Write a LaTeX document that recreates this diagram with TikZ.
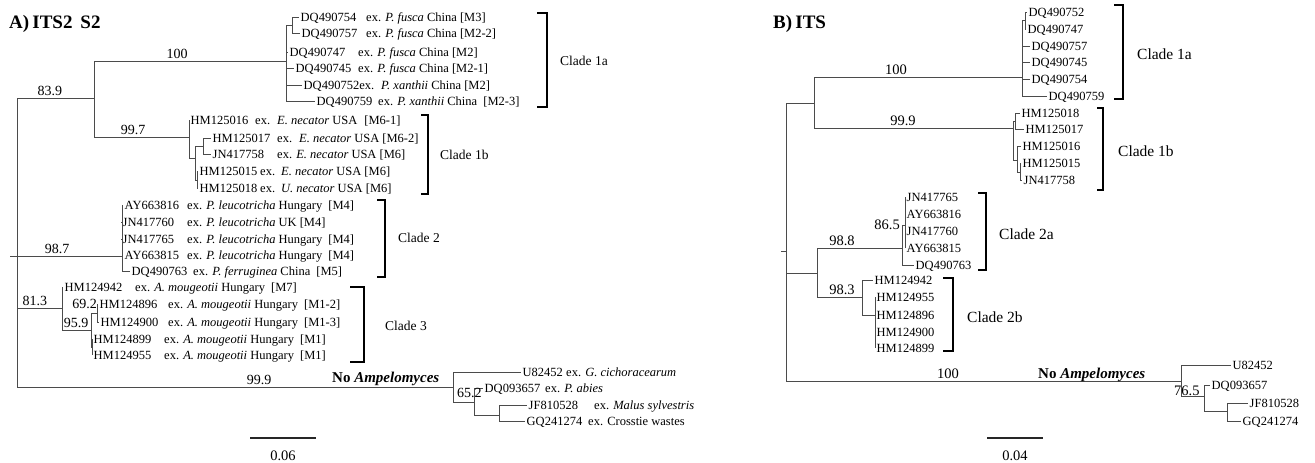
\documentclass[tikz,border=0pt]{standalone}
\usepackage{fontspec}
\setmainfont{Liberation Serif}
\definecolor{linegray}{RGB}{75,75,75}
\begin{document}
\begin{tikzpicture}[x=1pt,y=-1pt,
  br/.style={draw=linegray, line width=0.9pt},
  leaf/.style={anchor=west, inner xsep=1.5pt, inner ysep=0pt, text height=9pt, text depth=0pt, font=\fontsize{12.5}{15}\selectfont},
  desc/.style={anchor=west, inner sep=0pt, text height=9pt, text depth=0pt, font=\fontsize{12.5}{15}\selectfont},
  boot/.style={anchor=south, inner sep=0pt, text height=9pt, text depth=0pt, yshift=2.5pt, font=\fontsize{14}{16}\selectfont},
  bootw/.style={anchor=west, inner sep=0pt, text height=9pt, text depth=0pt, font=\fontsize{14}{16}\selectfont},
  bootR/.style={boot, font=\fontsize{14.5}{16}\selectfont},
  bootwR/.style={bootw, font=\fontsize{14.5}{16}\selectfont},
  clab/.style={anchor=west, inner sep=0pt, text height=9pt, text depth=0pt, font=\fontsize{13.5}{15}\selectfont},
  clabR/.style={clab, font=\fontsize{15.5}{17}\selectfont},
  cbr/.style={draw=black, line width=1.8pt, line join=miter},
  sbar/.style={draw=black!85, line width=1.8pt},
  ttl/.style={anchor=west, inner sep=0pt, font=\bfseries\fontsize{19}{22}\selectfont},
  nam/.style={anchor=west, inner sep=0pt, text height=10pt, text depth=0pt, font=\bfseries\fontsize{15}{17}\selectfont},
  sclab/.style={anchor=center, inner sep=0pt, font=\fontsize{14.5}{16}\selectfont},
]
\useasboundingbox (0,0) rectangle (1315,463);

% ================= Tree A =================
\node[ttl] (titleA) at (9,24) {A)\,ITS2\, S2};

\coordinate (rA) at (17,256);
\coordinate (rAs) at (10,256);
\coordinate (a1) at (94,98);
\coordinate (a11) at (286,61);
\coordinate (a111) at (292,25);
\coordinate (a12) at (189,137);
\coordinate (a121) at (195,158);
\coordinate (a1211) at (203,146);
\coordinate (a1212) at (197,180);
\coordinate (a2) at (122,256);
\coordinate (a3) at (62,308);
\coordinate (a31) at (91,330);
\coordinate (a311) at (97,313);
\coordinate (a312) at (92,347);
\coordinate (a4) at (453,387);
\coordinate (a41) at (474,402);
\coordinate (a411) at (499,415);

% accessions
\node[leaf] (L1) at (299,17) {DQ490754};
\node[leaf] (L2) at (300,33) {DQ490757};
\node[leaf] (L3) at (288,52) {DQ490747};
\node[leaf] (L4) at (294,68) {DQ490745};
\node[leaf] (L5) at (302,85) {DQ490752ex.};
\node[leaf] (L6) at (315,101) {DQ490759};
\node[leaf] (L7) at (189,120) {HM125016};
\node[leaf] (L8) at (211,138) {HM125017};
\node[leaf] (L9) at (211,154) {JN417758};
\node[leaf] (L10) at (198,171) {HM125015};
\node[leaf] (L11) at (198,188) {HM125018};
\node[leaf] (L12) at (123,205) {AY663816};
\node[leaf] (L13) at (121,222) {JN417760};
\node[leaf] (L14) at (121,239) {JN417765};
\node[leaf] (L15) at (123,255) {AY663815};
\node[leaf] (L16) at (130,271) {DQ490763};
\node[leaf] (L17) at (63,287) {HM124942};
\node[leaf] (L18) at (98,304) {HM124896};
\node[leaf] (L19) at (99,322) {HM124900};
\node[leaf] (L20) at (92,339) {HM124899};
\node[leaf] (L21) at (92,355) {HM124955};
\node[leaf] (L22) at (521,372) {U82452};
\node[leaf] (L23) at (483,388) {DQ093657};
\node[leaf] (L24) at (527,405) {JF810528};
\node[leaf] (L25) at (525,421) {GQ241274};

% descriptions
\node[desc] (D1) at (366,17) {ex. \textit{P. fusca} China [M3]};
\node[desc] (D2) at (366,33) {ex. \textit{P. fusca} China [M2-2]};
\node[desc] (D3) at (358,52) {ex. \textit{P. fusca} China [M2]};
\node[desc] (D4) at (358,68) {ex. \textit{P. fusca} China [M2-1]};
\node[desc] (D5) at (381,85) {\textit{P. xanthii} China [M2]};
\node[desc] (D6) at (378,101) {ex. \textit{P. xanthii} China\hspace{3pt} [M2-3]};
\node[desc] (D7) at (255,120) {ex.\hspace{7pt}\textit{E. necator} USA\hspace{4pt} [M6-1]};
\node[desc] (D8) at (277,138) {ex.\hspace{7pt}\textit{E. necator} USA [M6-2]};
\node[desc] (D9) at (277,154) {ex. \textit{E. necator} USA [M6]};
\node[desc] (D10) at (260,171) {ex.\hspace{6pt}\textit{E. necator} USA [M6]};
\node[desc] (D11) at (260,188) {ex.\hspace{6pt}\textit{U. necator} USA [M6]};
\node[desc] (D12) at (187,205) {ex. \textit{P. leucotricha} Hungary\hspace{3pt} [M4]};
\node[desc] (D13) at (187,222) {ex. \textit{P. leucotricha} UK [M4]};
\node[desc] (D14) at (187,239) {ex. \textit{P. leucotricha} Hungary\hspace{3pt} [M4]};
\node[desc] (D15) at (187,255) {ex. \textit{P. leucotricha} Hungary\hspace{3pt} [M4]};
\node[desc] (D16) at (193,271) {ex. \textit{P. ferruginea} China\hspace{3pt} [M5]};
\node[desc] (D17) at (135,287) {ex. \textit{A. mougeotii} Hungary\hspace{3pt} [M7]};
\node[desc] (D18) at (168,304) {ex. \textit{A. mougeotii} Hungary\hspace{3pt} [M1-2]};
\node[desc] (D19) at (168,322) {ex. \textit{A. mougeotii} Hungary\hspace{3pt} [M1-3]};
\node[desc] (D20) at (164,339) {ex. \textit{A. mougeotii} Hungary\hspace{3pt} [M1]};
\node[desc] (D21) at (164,355) {ex. \textit{A. mougeotii} Hungary\hspace{3pt} [M1]};
\node[desc] (D22) at (566,372) {ex. \textit{G. cichoracearum}};
\node[desc] (D23) at (545,388) {ex. \textit{P. abies}};
\node[desc] (D24) at (594,405) {ex. \textit{Malus sylvestris}};
\node[desc] (D25) at (588,421) {ex. Crosstie wastes};

\draw[br] (rAs) -- (rA);
\draw[br] (rA) |- (a1);
\draw[br] (rA) |- (a2);
\draw[br] (rA) |- (a3);
\draw[br] (rA) |- (a4);
\draw[br] (a1) |- (a11);
\draw[br] (a1) |- (a12);
\draw[br] (a11) |- (a111);
\draw[br] (a111) |- (L1.west);
\draw[br] (a111) |- (L2.west);
\draw[br] (a11) |- (L3.west);
\draw[br] (a11) |- (L4.west);
\draw[br] (a11) |- (L5.west);
\draw[br] (a11) |- (L6.west);
\draw[br] (a12) |- (L7.west);
\draw[br] (a12) |- (a121);
\draw[br] (a121) |- (a1211);
\draw[br] (a1211) |- (L8.west);
\draw[br] (a1211) |- (L9.west);
\draw[br] (a121) |- (a1212);
\draw[br] (a1212) |- (L10.west);
\draw[br] (a1212) |- (L11.west);
\draw[br] (a2) |- (L12.west);
\draw[br] (a2) |- (L13.west);
\draw[br] (a2) |- (L14.west);
\draw[br] (a2) |- (L15.west);
\draw[br] (a2) |- (L16.west);
\draw[br] (a3) |- (L17.west);
\draw[br] (a3) |- (a31);
\draw[br] (a31) |- (a311);
\draw[br] (a311) |- (L18.west);
\draw[br] (a311) |- (L19.west);
\draw[br] (a31) |- (a312);
\draw[br] (a312) |- (L20.west);
\draw[br] (a312) |- (L21.west);
\draw[br] (a4) |- (L22.west);
\draw[br] (a4) |- (a41);
\draw[br] (a41) |- (L23.west);
\draw[br] (a41) |- (a411);
\draw[br] (a411) |- (L24.west);
\draw[br] (a411) |- (L25.west);

\node[boot] (s1) at (50,98) {83.9};
\node[boot] (s2) at (177,61) {100};
\node[boot] (s3) at (133,137) {99.7};
\node[boot] (s4) at (57,256) {98.7};
\node[boot] (s5) at (35,308) {81.3};
\node[boot] (s6) at (76,330) {95.9};
\node[bootw, anchor=east] (s7) at (97,304) {69.2};
\node[boot] (s8) at (259,387) {99.9};
\node[nam] (na) at (332,377) {No \textit{Ampelomyces}};
\node[bootw] (s9) at (457,393) {65.2};

\draw[cbr] (537,13) -- (547,13) -- (547,107) -- (537,107);
\node[clab] (cA1) at (560,61) {Clade 1a};
\draw[cbr] (421,115) -- (428,115) -- (428,194) -- (421,194);
\node[clab] (cA2) at (440,155) {Clade 1b};
\draw[cbr] (377,200) -- (385,200) -- (385,277) -- (377,277);
\node[clab] (cA3) at (398,238) {Clade 2};
\draw[cbr] (350,287) -- (364,287) -- (364,362) -- (350,362);
\node[clab] (cA4) at (385,326) {Clade 3};

\coordinate (sbA1) at (250,438);
\coordinate (sbA2) at (316,438);
\draw[sbar] (sbA1) -- (sbA2);
\node[sclab] (scA) at (283,456) {0.06};

% ================= Tree B =================
\node[ttl] (titleB) at (773,24) {B)\,ITS};

\coordinate (rB) at (786,251);
\coordinate (rBs) at (781,251);
\coordinate (b1) at (814,103);
\coordinate (b11) at (1022,77);
\coordinate (b111) at (1025,20);
\coordinate (b12) at (1013,128);
\coordinate (b121) at (1015,121);
\coordinate (b122) at (1017,160);
\coordinate (b1221) at (1020,172);
\coordinate (b2) at (817,273);
\coordinate (b21) at (902,248);
\coordinate (b211) at (905,225);
\coordinate (b22) at (862,297);
\coordinate (b221) at (875,315);
\coordinate (b3) at (1181,381);
\coordinate (b31) at (1204,396);
\coordinate (b311) at (1227,411);

\node[leaf] (M1) at (1027,12) {DQ490752};
\node[leaf] (M2) at (1026,29) {DQ490747};
\node[leaf] (M3) at (1030,46) {DQ490757};
\node[leaf] (M4) at (1030,62) {DQ490745};
\node[leaf] (M5) at (1030,79) {DQ490754};
\node[leaf] (M6) at (1047,96) {DQ490759};
\node[leaf] (M7) at (1020,113) {HM125018};
\node[leaf] (M8) at (1024,129) {HM125017};
\node[leaf] (M9) at (1021,146) {HM125016};
\node[leaf] (M10) at (1021,163) {HM125015};
\node[leaf] (M11) at (1022,180) {JN417758};
\node[leaf] (M12) at (905,197) {JN417765};
\node[leaf] (M13) at (905,214) {AY663816};
\node[leaf] (M14) at (905,231) {JN417760};
\node[leaf] (M15) at (905,248) {AY663815};
\node[leaf] (M16) at (914,265) {DQ490763};
\node[leaf] (M17) at (873,280) {HM124942};
\node[leaf] (M18) at (875,297) {HM124955};
\node[leaf] (M19) at (875,315) {HM124896};
\node[leaf] (M20) at (875,332) {HM124900};
\node[leaf] (M21) at (875,348) {HM124899};
\node[leaf] (M22) at (1231,365) {U82452};
\node[leaf] (M23) at (1210,385) {DQ093657};
\node[leaf] (M24) at (1248,403) {JF810528};
\node[leaf] (M25) at (1241,421) {GQ241274};

\draw[br] (rBs) -- (rB);
\draw[br] (rB) |- (b1);
\draw[br] (rB) |- (b2);
\draw[br] (rB) |- (b3);
\draw[br] (b1) |- (b11);
\draw[br] (b1) |- (b12);
\draw[br] (b11) |- (b111);
\draw[br] (b111) |- (M1.west);
\draw[br] (b111) |- (M2.west);
\draw[br] (b11) |- (M3.west);
\draw[br] (b11) |- (M4.west);
\draw[br] (b11) |- (M5.west);
\draw[br] (b11) |- (M6.west);
\draw[br] (b12) |- (b121);
\draw[br] (b121) |- (M7.west);
\draw[br] (b121) |- (M8.west);
\draw[br] (b12) |- (b122);
\draw[br] (b122) |- (M9.west);
\draw[br] (b122) |- (b1221);
\draw[br] (b1221) |- (M10.west);
\draw[br] (b1221) |- (M11.west);
\draw[br] (b2) |- (b21);
\draw[br] (b2) |- (b22);
\draw[br] (b21) |- (b211);
\draw[br] (b211) |- (M12.west);
\draw[br] (b211) |- (M13.west);
\draw[br] (b211) |- (M14.west);
\draw[br] (b211) |- (M15.west);
\draw[br] (b21) |- (M16.west);
\draw[br] (b22) |- (M17.west);
\draw[br] (b22) |- (b221);
\draw[br] (b221) |- (M18.west);
\draw[br] (b221) |- (M19.west);
\draw[br] (b221) |- (M20.west);
\draw[br] (b221) |- (M21.west);
\draw[br] (b3) |- (M22.west);
\draw[br] (b3) |- (b31);
\draw[br] (b31) |- (M23.west);
\draw[br] (b31) |- (b311);
\draw[br] (b311) |- (M24.west);
\draw[br] (b311) |- (M25.west);

\node[bootR] (t1) at (896,77) {100};
\node[bootR] (t2) at (903,128) {99.9};
\node[bootR] (t3) at (842,248) {98.8};
\node[bootR] (t4) at (842,297) {98.3};
\node[bootwR, anchor=east] (t5) at (900,225) {86.5};
\node[bootR] (t6) at (948,381) {100};
\node[nam] (nb) at (1038,373) {No \textit{Ampelomyces}};
\node[bootwR] (t7) at (1174,391) {76.5};

\draw[cbr] (1114,5) -- (1123,5) -- (1123,99) -- (1114,99);
\node[clabR] (cB1) at (1137,55) {Clade 1a};
\draw[cbr] (1097,108) -- (1103,108) -- (1103,190) -- (1097,190);
\node[clabR] (cB2) at (1118,152) {Clade 1b};
\draw[cbr] (978,193) -- (986,193) -- (986,270) -- (978,270);
\node[clabR] (cB3) at (999,235) {Clade 2a};
\draw[cbr] (943,278) -- (953,278) -- (953,351) -- (943,351);
\node[clabR] (cB4) at (967,318) {Clade 2b};

\coordinate (sbB1) at (987,438);
\coordinate (sbB2) at (1043,438);
\draw[sbar] (sbB1) -- (sbB2);
\node[sclab] (scB) at (1015,456) {0.04};
\end{tikzpicture}
\end{document}
